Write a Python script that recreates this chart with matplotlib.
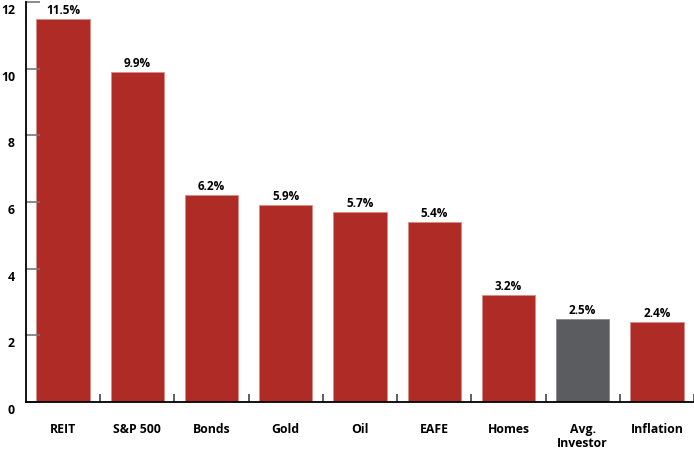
import numpy as np
import matplotlib.pyplot as plt
from matplotlib.transforms import ScaledTranslation

categories = ["REIT", "S&P 500", "Bonds", "Gold", "Oil", "EAFE", "Homes", "Avg.\nInvestor", "Inflation"]
values = [11.5, 9.9, 6.2, 5.9, 5.7, 5.4, 3.2, 2.5, 2.4]
labels = ["11.5%", "9.9%", "6.2%", "5.9%", "5.7%", "5.4%", "3.2%", "2.5%", "2.4%"]
highlight = "Avg.\nInvestor"

red = "#AE2B26"
grey = "#5B5C60"

plt.rcParams['font.family'] = ['Open Sans', 'DejaVu Sans']

fig = plt.figure(figsize=(6.94, 4.51), dpi=100)
ax = fig.add_axes([26 / 694, 1 - 402 / 451, 1 - 26 / 694, 400 / 451])

x = np.arange(len(categories))
colors = [grey if c == highlight else red for c in categories]
bars = ax.bar(x, values, width=0.72, color=colors, edgecolor="#D98C88", linewidth=0.6)
bars[categories.index(highlight)].set_edgecolor("#8A8B8F")

for xi, v, lab in zip(x, values, labels):
    ax.text(xi, v + 0.06, lab, ha="center", va="bottom", fontsize=8.5, fontweight="bold")

ax.set_xlim(-0.5, len(categories) - 0.5)
ax.set_ylim(0, 12)

ax.set_xticks(x)
ax.set_xticklabels(categories, fontsize=8.8, fontweight="bold", linespacing=1.15)
ax.set_xticks(np.arange(0.5, len(categories) - 0.5 + 0.01, 1), minor=True)
ax.tick_params(axis="x", which="major", length=0, pad=15)
ax.tick_params(axis="x", which="minor", direction="in", length=6, width=1.1, color="#333333")

ax.set_yticks(np.arange(0, 13, 2))
ax.set_yticklabels([str(t) for t in range(0, 13, 2)], fontsize=8.8, fontweight="bold")
ax.tick_params(axis="y", direction="in", length=10, width=1.2, color="#777777", pad=8)
# labels in the original sit a bit below their ticks
shift = ScaledTranslation(0, -7 / 100, fig.dpi_scale_trans)
for t in ax.get_yticklabels():
    t.set_transform(t.get_transform() + shift)

for s in ["top", "right"]:
    ax.spines[s].set_visible(False)
for s in ["left", "bottom"]:
    ax.spines[s].set_linewidth(1.3)

fig.savefig("out.png", dpi=100)
